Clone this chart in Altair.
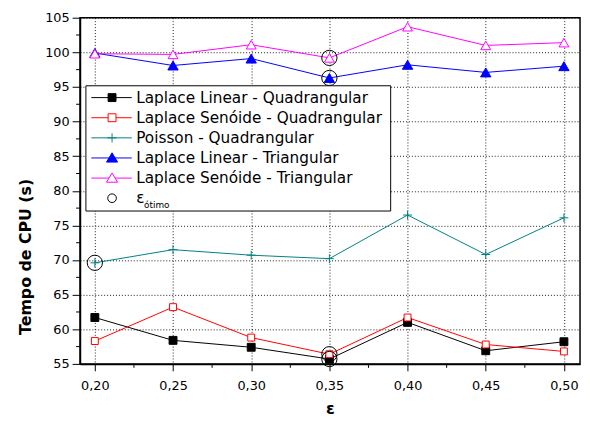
import altair as alt
import pandas as pd

# ---------------- data ----------------
eps = [0.20, 0.25, 0.30, 0.35, 0.40, 0.45, 0.50]
series_names = [
    "Laplace Linear - Quadrangular",
    "Laplace Senóide - Quadrangular",
    "Poisson - Quadrangular",
    "Laplace Linear - Triangular",
    "Laplace Senóide - Triangular",
]
lin_quad = [61.7, 58.4, 57.4, 55.7, 61.0, 56.9, 58.2]
sen_quad = [58.3, 63.2, 58.8, 56.4, 61.7, 57.8, 56.8]
poisson_quad = [69.6, 71.5, 70.7, 70.2, 76.5, 70.8, 76.1]
lin_tri = [99.9, 98.1, 99.1, 96.3, 98.2, 97.1, 98.0]
sen_tri = [99.8, 99.7, 101.1, 99.2, 103.7, 101.0, 101.4]
series_values = [lin_quad, sen_quad, poisson_quad, lin_tri, sen_tri]
opt_eps = [0.35, 0.35, 0.20, 0.35, 0.35]
opt_label = "ε"
opt_sub = "ótimo"

y_ticks = [55, 60, 65, 70, 75, 80, 85, 90, 95, 100, 105]
y_minor = [57.5, 62.5, 67.5, 72.5, 77.5, 82.5, 87.5, 92.5, 97.5, 102.5]
x_minor = [0.225, 0.275, 0.325, 0.375, 0.425, 0.475]

colors = ["#000000", "#FF0000", "#008080", "#0000FF", "#FF00FF"]

rows = []
for name, vals in zip(series_names, series_values):
    for e, v in zip(eps, vals):
        rows.append({"serie": name, "eps": e, "tempo": v})
df = pd.DataFrame(rows)

opt_df = pd.DataFrame({
    "serie": series_names,
    "eps": opt_eps,
    "tempo": [vals[eps.index(e)] for vals, e in zip(series_values, opt_eps)],
})

W, H = 507, 351
FONT = "DejaVu Sans"

x_scale = alt.Scale(domain=[0.1905, 0.5103], nice=False, zero=False)
y_scale = alt.Scale(domain=[55, 105], nice=False, zero=False)

x_axis = alt.Axis(
    values=eps, title="ε",
    labelExpr="replace(format(datum.value, '.2f'), '.', ',')",
    grid=True, gridColor="black", gridDash=[1, 2], gridWidth=1, gridOpacity=0.9,
    domainColor="black", domainWidth=1.5, tickColor="black", tickSize=7, tickWidth=1,
    labelFont=FONT, labelFontSize=13, labelColor="black", labelPadding=9,
    titleFont=FONT, titleFontSize=16, titleFontWeight="bold", titleColor="black",
    titleY=50, titleBaseline="alphabetic",
)
y_axis = alt.Axis(
    values=y_ticks, title="Tempo de CPU (s)",
    grid=True, gridColor="black", gridDash=[1, 2], gridWidth=1, gridOpacity=0.9,
    domainColor="black", domainWidth=1.5, tickColor="black", tickSize=8, tickWidth=1,
    labelFont=FONT, labelFontSize=13, labelColor="black", labelPadding=3,
    titleFont=FONT, titleFontSize=16, titleFontWeight="bold", titleColor="black",
    titleX=-47, titleY=242, titleAngle=-90, titleBaseline="bottom", titleAlign="center",
)


def X(field="eps"):
    return alt.X(f"{field}:Q", scale=x_scale, axis=x_axis)


def Y(field="tempo"):
    return alt.Y(f"{field}:Q", scale=y_scale, axis=y_axis)


one = pd.DataFrame({"k": [0]})

# ---------------- main plot ----------------
main_layers = []
for name, col in zip(series_names, colors):
    main_layers.append(
        alt.Chart(df).transform_filter(alt.datum.serie == name)
        .mark_line(color=col, strokeWidth=1)
        .encode(x=X(), y=Y(), order="eps:Q")
    )

marker_specs = [
    dict(shape="square", size=64, filled=True, fill="#000000", stroke="#000000", strokeWidth=1),
    dict(shape="square", size=49, filled=True, fill="white", stroke="#FF0000", strokeWidth=1),
    dict(shape="M-1,0H1M0,-1V1", size=81, filled=False, stroke="#008080", strokeWidth=1),
    dict(shape="triangle-up", size=110, filled=True, fill="#0000FF", stroke="#0000FF", strokeWidth=1),
    dict(shape="triangle-up", size=100, filled=True, fill="white", stroke="#FF00FF", strokeWidth=1),
]
for name, spec in zip(series_names, marker_specs):
    main_layers.append(
        alt.Chart(df).transform_filter(alt.datum.serie == name)
        .mark_point(opacity=1, **spec)
        .encode(x=X(), y=Y())
    )

main_layers.append(
    alt.Chart(opt_df).mark_point(shape="circle", size=240, filled=False,
                                  stroke="black", strokeWidth=1, opacity=1)
    .encode(x=X(), y=Y())
)

main_layers.append(
    alt.Chart(pd.DataFrame({"tempo": y_minor})).mark_rule(color="black", strokeWidth=1)
    .encode(y=Y(), x=alt.value(0), x2=alt.value(-4))
)
main_layers.append(
    alt.Chart(pd.DataFrame({"eps": x_minor})).mark_rule(color="black", strokeWidth=1)
    .encode(x=X(), y=alt.value(H), y2=alt.value(H + 4))
)
main = alt.layer(*main_layers)

# ---------------- legend (drawn from its own point scale) ----------------
legend_entries = series_names + [opt_label]
legend_strokes = colors + ["#000000"]
legend_fills = ["#000000", "white", "white", "#0000FF", "white", "white"]
legend_paths = [
    "M-1,-1H1V1H-1Z",
    "M-1,-1H1V1H-1Z",
    "M-1.15,0H1.15M0,-1.15V1.15",
    "M0,-1.3L1.4,1.05L-1.4,1.05Z",
    "M0,-1.3L1.4,1.05L-1.4,1.05Z",
    "M1.1,0A1.1,1.1,0,1,1,-1.1,0A1.1,1.1,0,1,1,1.1,0Z",
]
legend_df = pd.DataFrame({"entry": legend_entries})
leg_y = alt.Y("entry:N", scale=alt.Scale(type="point", domain=legend_entries,
                                          range=[81, 183], padding=0), axis=None)
leg_stroke = alt.Stroke("entry:N", scale=alt.Scale(domain=legend_entries, range=legend_strokes), legend=None)
leg_fill = alt.Fill("entry:N", scale=alt.Scale(domain=legend_entries, range=legend_fills), legend=None)
leg_shape = alt.Shape("entry:N", scale=alt.Scale(domain=legend_entries, range=legend_paths), legend=None)

legend_box = alt.Chart(one).mark_rect(
    fill="white", stroke="black", strokeWidth=1
).encode(x=alt.value(6), x2=alt.value(315), y=alt.value(69), y2=alt.value(196))

legend_lines = (
    alt.Chart(legend_df).transform_filter(alt.datum.entry != opt_label)
    .mark_rule(strokeWidth=1)
    .encode(y=leg_y, x=alt.value(11.5), x2=alt.value(52.5), stroke=leg_stroke)
)
legend_marks = (
    alt.Chart(legend_df).mark_point(size=64, strokeWidth=1, opacity=1, filled=True)
    .encode(y=leg_y, x=alt.value(32.5), stroke=leg_stroke, fill=leg_fill, shape=leg_shape)
)
legend_text = (
    alt.Chart(legend_df).mark_text(font=FONT, fontSize=15.5, align="left",
                                   baseline="middle", color="black")
    .encode(y=leg_y, x=alt.value(57), text="entry:N")
)
legend_sub = (
    alt.Chart(one).mark_text(text=opt_sub, font=FONT, fontSize=9, align="left",
                             baseline="middle", color="black")
    .encode(x=alt.value(65), y=alt.value(190))
)
legend = alt.layer(legend_box, legend_lines, legend_marks, legend_text, legend_sub)

chart = alt.layer(main, legend).resolve_scale(y="independent").properties(
    width=W, height=H,
    autosize=alt.AutoSizeParams(type="none"),
    padding={"left": 73, "top": 7, "right": 2, "bottom": 52},
).configure_view(stroke="black", strokeWidth=1.5)

chart.save("out.html", embed_options={"renderer": "svg", "actions": False})
